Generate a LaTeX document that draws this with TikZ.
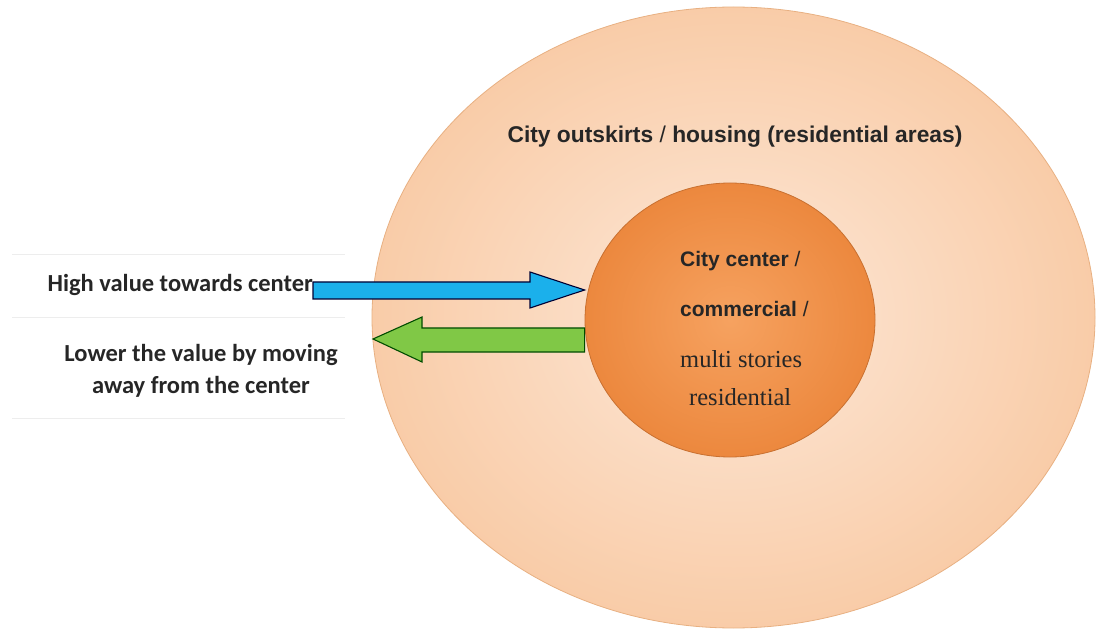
\documentclass[tikz,border=0pt]{standalone}
\usepackage{fontspec}
\setmainfont{Liberation Serif}
\newfontfamily\calfont{Carlito}
\newfontfamily\arifont{Liberation Sans}
\usetikzlibrary{shapes.geometric}
\definecolor{peachC}{RGB}{252,232,216}
\definecolor{peachE}{RGB}{249,204,168}
\definecolor{peachB}{RGB}{232,176,130}
\definecolor{orIn}{RGB}{246,162,96}
\definecolor{orOut}{RGB}{236,136,62}
\definecolor{orB}{RGB}{200,112,48}
\definecolor{arrBlue}{RGB}{27,176,235}
\definecolor{arrGreen}{RGB}{128,200,70}
\tikzset{
  lefttext/.style={font=\calfont\bfseries\fontsize{24.5}{32}\selectfont, text=black!85, inner sep=0},
  outtext/.style={font=\arifont\bfseries\fontsize{22.8}{26}\selectfont, text=black!85, inner sep=0},
  boldin/.style={font=\arifont\bfseries\fontsize{21}{24}\selectfont, text=black!85, inner sep=0, anchor=base west},
  serifin/.style={font=\fontsize{24.5}{28}\selectfont, text=black!85, inner sep=0, anchor=base west},
  blockarrow/.style={line width=1.1pt, line join=miter}
}
\begin{document}
\begin{tikzpicture}[x=1pt,y=-1pt]
\useasboundingbox (0,0) rectangle (1096,631);
\fill[white] (0,0) rectangle (1096,631);
% faint text panel
\draw[black!7, line width=1pt] (12,255) -- (345,255);
\draw[black!7, line width=1pt] (12,318) -- (345,318);
\draw[black!7, line width=1pt] (12,418) -- (345,418);
\node (outer) [ellipse, minimum width=723pt, minimum height=621pt, inner sep=0,
  inner color=peachC, outer color=peachE, draw=peachB, line width=0.8pt] at (733.5,317.5) {};
\node (inner) [ellipse, minimum width=290pt, minimum height=274pt, inner sep=0,
  inner color=orIn, outer color=orOut, draw=orB, line width=0.8pt] at (730,320) {};
% texts
\node[outtext, anchor=base] (outlabel) at (735,143) {City outskirts \textmd{/} housing (residential areas)};
\node[boldin] (c1) at (680,267) {City center \textmd{/}};
\node[boldin] (c2) at (680,317) {commercial \textmd{/}};
\node[serifin] (c3) at (680,367) {multi stories};
\node[serifin] (c4) at (689,405) {residential};
\node[lefttext, anchor=base east] (high) at (313,292) {High value towards center};
\node[lefttext, anchor=base] (low1) at (201,361) {Lower the value by moving};
\node[lefttext, anchor=base] (low2) at (201,393) {away from the center};
% arrows
\draw[blockarrow, fill=arrBlue, draw=black!80!blue]
  (high.east |- 0,282) -- (530,282) -- (530,272) -- (inner.west |- 0,290) -- (530,308) -- (530,299) -- (high.east |- 0,299) -- cycle;
\draw[blockarrow, fill=arrGreen, draw=black!70!green]
  (inner.west |- 0,328) -- (422,328) -- (422,317) -- (373,339) -- (422,362) -- (422,352) -- (inner.west |- 0,352) -- cycle;
\end{tikzpicture}
\end{document}
